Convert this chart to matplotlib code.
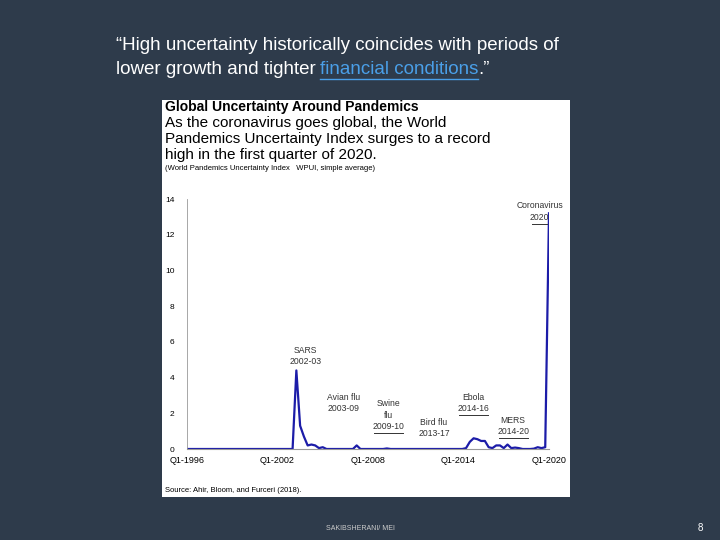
import matplotlib
matplotlib.use("Agg")
import matplotlib.pyplot as plt

plt.rcParams["font.family"] = ["Liberation Sans", "DejaVu Sans"]

# quarterly WPUI, Q1-1996 .. Q1-2020
wpui = [0] * 28 + [
    0.0, 4.4, 1.3, 0.7, 0.2, 0.25, 0.2, 0.05, 0.1, 0.0,   # q28-37
    0.0, 0.0, 0.0, 0.0, 0.0, 0.0, 0.0, 0.2, 0.0, 0.0,     # q38-47
    0.0, 0.0, 0.0, 0.0, 0.0, 0.03, 0.0, 0.0, 0.0, 0.0,    # q48-57
    0.0, 0.0, 0.0, 0.0, 0.0, 0.0, 0.0, 0.0, 0.0, 0.0,     # q58-67
    0.0, 0.0, 0.0, 0.0, 0.0, 0.0, 0.05, 0.4, 0.6, 0.55,   # q68-77
    0.45, 0.45, 0.1, 0.05, 0.2, 0.2, 0.05, 0.25, 0.05, 0.08,  # q78-87
    0.05, 0.0, 0.0, 0.0, 0.02, 0.1, 0.05, 0.1, 13.2,      # q88-96
]
tick_pos = [0, 24, 48, 72, 96]
tick_labels = ["Q1-1996", "Q1-2002", "Q1-2008", "Q1-2014", "Q1-2020"]
y_ticks = [0, 2, 4, 6, 8, 10, 12, 14]

# event labels: (x quarter, y value, text, underlined)
events = [
    (31.5, 5.2, "SARS\n2002-03", False),
    (41.5, 2.6, "Avian flu\n2003-09", False),
    (53.5, 1.9, "Swine\nflu\n2009-10", True),
    (65.5, 1.2, "Bird flu\n2013-17", False),
    (76.0, 2.6, "Ebola\n2014-16", True),
    (86.5, 1.3, "MERS\n2014-20", True),
    (93.5, 13.3, "Coronavirus\n2020", True),
]

W, H = 720, 540
fig = plt.figure(figsize=(7.2, 5.4), dpi=100)
fig.patch.set_facecolor("#2e3b4b")
renderer = fig.canvas.get_renderer()

# white panel holding the chart image
panel = fig.add_axes([162 / W, 1 - 497 / H, 408 / W, 397 / H])
panel.set_facecolor("white")
panel.set_xticks([])
panel.set_yticks([])
for s in panel.spines.values():
    s.set_visible(False)

# slide quote
fig.text(116 / W, 1 - 46 / H, "\u201cHigh uncertainty historically coincides with periods of",
         color="white", fontsize=13.5, va="center")
t1 = fig.text(116 / W, 1 - 70 / H, "lower growth and tighter", color="white", fontsize=13.5,
              va="center")
x1 = t1.get_window_extent(renderer).x1 + 4
t2 = fig.text(x1 / W, 1 - 70 / H, "financial conditions", color="#4a9fe8", fontsize=13.5,
              va="center")
x2 = t2.get_window_extent(renderer).x1
fig.text(x2 / W, 1 - 70 / H, ".\u201d", color="white", fontsize=13.5, va="center")
fig.add_artist(plt.Line2D([x1 / W, x2 / W], [1 - 79 / H, 1 - 79 / H], color="#4a9fe8", lw=1))

# chart header
fig.text(165 / W, 1 - 107 / H, "Global Uncertainty Around Pandemics", fontsize=10,
         fontweight="bold", va="center")
for i, line in enumerate(["As the coronavirus goes global, the World",
                          "Pandemics Uncertainty Index surges to a record",
                          "high in the first quarter of 2020."]):
    fig.text(165 / W, 1 - (123 + 16 * i) / H, line, fontsize=11, va="center")
fig.text(165 / W, 1 - 169 / H, "(World Pandemics Uncertainty Index   WPUI, simple average)",
         fontsize=5.5, va="center")
fig.text(165 / W, 1 - 491 / H, "Source: Ahir, Bloom, and Furceri (2018).", fontsize=5.5,
         va="center")

ax = fig.add_axes([187 / W, 1 - 449 / H, 362 / W, 250 / H])
ax.set_facecolor("none")
for s in ["top", "right"]:
    ax.spines[s].set_visible(False)
ax.spines["left"].set_color("#999999")
ax.spines["left"].set_linewidth(0.6)
ax.spines["bottom"].set_color("#999999")
ax.spines["bottom"].set_linewidth(0.8)
ax.plot(range(len(wpui)), wpui, color="#1c1ca8", lw=1.6)
ax.set_xlim(0, 96)
ax.set_ylim(0, 14)
ax.set_xticks(tick_pos)
ax.set_xticklabels(tick_labels, fontsize=6.5)
ax.set_yticks(y_ticks)
ax.set_yticklabels([str(v) for v in y_ticks], fontsize=6)
ax.tick_params(length=0)
ax.tick_params(axis="y", pad=9)
ax.tick_params(axis="x", pad=5)

for x, y, txt, ul in events:
    ax.text(x, y, txt, fontsize=6.2, ha="center", va="center", color="#333333",
            linespacing=1.3)
    if ul:
        n = txt.count("\n")
        yb = y - 0.3 * (n + 1) - 0.1
        half = 3.8 if "Coronavirus" not in txt else 2.0
        ax.plot([x - half, x + half], [yb, yb], color="#333333", lw=0.7, clip_on=False)

fig.text(360 / W, 1 - 528 / H, "SAKIBSHERANI/ MEI", color="#cccccc", fontsize=5,
         ha="center", va="center")
fig.text(700 / W, 1 - 528 / H, "8", color="white", fontsize=7, ha="center", va="center")

fig.savefig("out.png", dpi=100, facecolor=fig.get_facecolor())
